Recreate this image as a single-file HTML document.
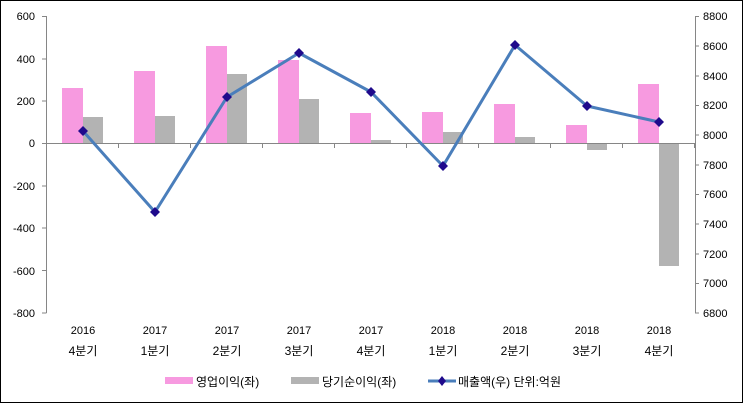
<!DOCTYPE html>
<html><head><meta charset="utf-8"><style>
html,body{margin:0;padding:0;background:#fff}
svg{display:block;font-family:"Liberation Sans","Noto Sans CJK KR",sans-serif}
</style></head><body>
<svg width="743" height="403" viewBox="0 0 743 403" xmlns="http://www.w3.org/2000/svg">
<rect x="0.5" y="0.5" width="742" height="402" fill="#fff" stroke="#000" stroke-width="1"/>
<g fill="#f79ae0">
<rect x="62" y="88" width="21" height="55"/>
<rect x="134" y="71" width="21" height="72"/>
<rect x="206" y="46" width="21" height="97"/>
<rect x="278" y="60" width="21" height="83"/>
<rect x="350" y="113" width="21" height="30"/>
<rect x="422" y="112" width="21" height="31"/>
<rect x="494" y="104" width="21" height="39"/>
<rect x="566" y="125" width="21" height="18"/>
<rect x="638" y="84" width="21" height="59"/>
</g>
<g fill="#b3b3b3">
<rect x="83" y="117" width="20" height="26"/>
<rect x="155" y="116" width="20" height="27"/>
<rect x="227" y="74" width="20" height="69"/>
<rect x="299" y="99" width="20" height="44"/>
<rect x="371" y="140" width="20" height="3"/>
<rect x="443" y="132" width="20" height="11"/>
<rect x="515" y="137" width="20" height="6"/>
<rect x="587" y="143" width="20" height="7"/>
<rect x="659" y="143" width="20" height="123"/>
</g>
<g stroke="#868686" stroke-width="1" fill="none">
<path d="M46.5 16V313M695.5 16V313"/>
<path d="M42 16.5h4.5M42 59h4.5M42 101h4.5M42 143.5h4.5M42 186h4.5M42 228h4.5M42 270.5h4.5M42 313h4.5"/>
<path d="M695 16.5h4M695 46h4M695 76h4M695 105.5h4M695 135h4M695 165h4M695 194.5h4M695 224h4M695 254h4M695 283.5h4M695 313h4"/>
<path d="M46 143.5H695"/>
<path d="M118.5 143v5M190.5 143v5M262.5 143v5M334.5 143v5M406.5 143v5M478.5 143v5M550.5 143v5M622.5 143v5M694.5 143v5"/>
</g>
<polyline points="83,131 155,212 227,97 299,53 371,92 443,166 515,45 587,106 659,122" fill="none" stroke="#4a7ebb" stroke-width="3" stroke-linejoin="round"/>
<g fill="#1f0a8c">
<path d="M83 126l5 5-5 5-5-5z"/><path d="M155 207l5 5-5 5-5-5z"/><path d="M227 92l5 5-5 5-5-5z"/>
<path d="M299 48l5 5-5 5-5-5z"/><path d="M371 87l5 5-5 5-5-5z"/><path d="M443 161l5 5-5 5-5-5z"/>
<path d="M515 40l5 5-5 5-5-5z"/><path d="M587 101l5 5-5 5-5-5z"/><path d="M659 117l5 5-5 5-5-5z"/>
</g>
<g font-size="11" fill="#000" text-anchor="end">
<text x="35" y="20">600</text><text x="35" y="63">400</text><text x="35" y="105">200</text>
<text x="35" y="147">0</text><text x="35" y="190">-200</text><text x="35" y="232">-400</text>
<text x="35" y="275">-600</text><text x="35" y="317">-800</text>
</g>
<g font-size="11" fill="#000" text-anchor="start">
<text x="703" y="20">8800</text><text x="703" y="50">8600</text><text x="703" y="80">8400</text>
<text x="703" y="109">8200</text><text x="703" y="139">8000</text><text x="703" y="169">7800</text>
<text x="703" y="198">7600</text><text x="703" y="228">7400</text><text x="703" y="258">7200</text>
<text x="703" y="287">7000</text><text x="703" y="317">6800</text>
</g>
<g font-size="11" fill="#000" text-anchor="middle">
<text x="83" y="334">2016</text><text x="155" y="334">2017</text><text x="227" y="334">2017</text>
<text x="299" y="334">2017</text><text x="371" y="334">2017</text><text x="443" y="334">2018</text>
<text x="515" y="334">2018</text><text x="587" y="334">2018</text><text x="659" y="334">2018</text>
</g>
<g font-size="12" fill="#000" text-anchor="middle">
<text x="83" y="355">4분기</text><text x="155" y="355">1분기</text><text x="227" y="355">2분기</text>
<text x="299" y="355">3분기</text><text x="371" y="355">4분기</text><text x="443" y="355">1분기</text>
<text x="515" y="355">2분기</text><text x="587" y="355">3분기</text><text x="659" y="355">4분기</text>
</g>
<rect x="165" y="377" width="28" height="7" fill="#f79ae0"/>
<text x="196" y="386" font-size="12">영업이익(좌)</text>
<rect x="291" y="377" width="28" height="7" fill="#b3b3b3"/>
<text x="322" y="386" font-size="12">당기순이익(좌)</text>
<line x1="428" y1="381" x2="456" y2="381" stroke="#4a7ebb" stroke-width="3"/>
<path d="M442 376l4 5-4 5-4-5z" fill="#1f0a8c"/>
<text x="458" y="386" font-size="12">매출액(우)  단위:억원</text>
</svg>
</body></html>
